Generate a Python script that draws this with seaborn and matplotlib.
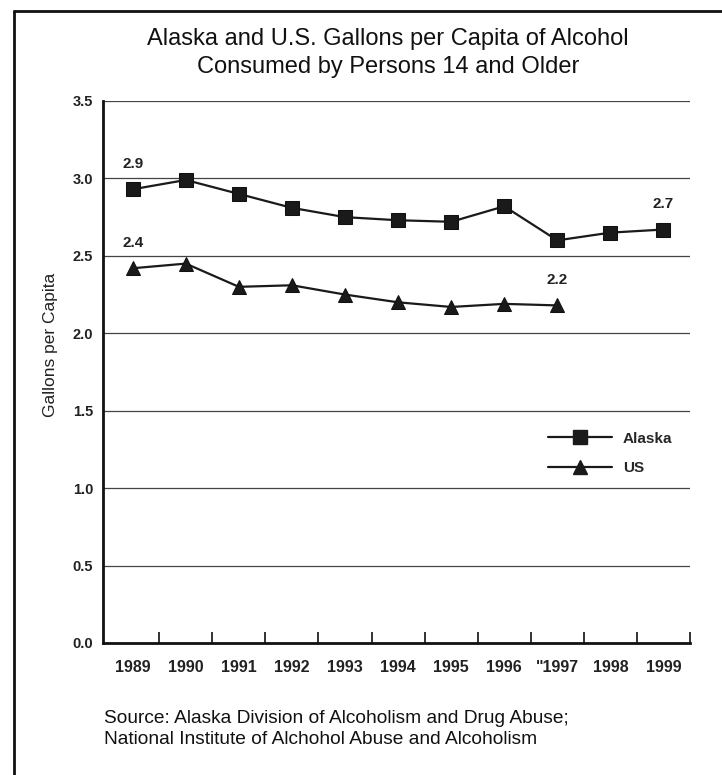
import numpy as np
import pandas as pd
import seaborn as sns
import matplotlib.pyplot as plt
from matplotlib.lines import Line2D

# данные
years = [1989, 1990, 1991, 1992, 1993, 1994, 1995, 1996, 1997, 1998, 1999]
year_labels = ["1989", "1990", "1991", "1992", "1993", "1994", "1995", "1996", '"1997', "1998", "1999"]
alaska = [2.93, 2.99, 2.90, 2.81, 2.75, 2.73, 2.72, 2.82, 2.60, 2.65, 2.67]
us_years = [1989, 1990, 1991, 1992, 1993, 1994, 1995, 1996, 1997]
us = [2.42, 2.45, 2.30, 2.31, 2.25, 2.20, 2.17, 2.19, 2.18]

# подписи значений: (год, значение, текст)
alaska_notes = [(1989, 2.93, "2.9"), (1999, 2.67, "2.7")]
us_notes = [(1989, 2.42, "2.4"), (1997, 2.18, "2.2")]

yticks = [0.0, 0.5, 1.0, 1.5, 2.0, 2.5, 3.0, 3.5]

data = pd.concat([
    pd.DataFrame({"year": years, "value": alaska, "series": "Alaska"}),
    pd.DataFrame({"year": us_years, "value": us, "series": "US"}),
], ignore_index=True)

sns.set_style("white")
plt.rcParams['font.family'] = ['Liberation Sans', 'DejaVu Sans']
narrow = ['Liberation Sans Narrow', 'Liberation Sans']

fig = plt.figure(figsize=(7.22, 7.75), dpi=100)
ax = fig.add_axes([103 / 722, 1 - 643 / 775, 587 / 722, 542 / 775])

sns.lineplot(data=data, x="year", y="value", hue="series", style="series",
             markers={"Alaska": "s", "US": "^"}, dashes=False,
             palette={"Alaska": "#1a1a1a", "US": "#1a1a1a"},
             linewidth=1.6, markersize=10, markeredgecolor="#111111",
             ax=ax, legend=False)

ax.set_xlim(1988.44, 1999.5)
ax.set_ylim(0, 3.5)

# сетка
for y in yticks[1:]:
    ax.axhline(y, color="#444444", linewidth=0.9, zorder=0)

ax.set_yticks(yticks)
ax.set_yticklabels([f"{v:.1f}" for v in yticks], fontsize=10.5, color="#222222",
                   family=narrow, weight='bold')
ax.set_xticks(years)
ax.set_xticklabels(year_labels, fontsize=11.5, color="#222222",
                   family=narrow, weight='bold')
ax.set_xticks([y + 0.5 for y in years], minor=True)
ax.tick_params(axis="x", which="both", bottom=True)
ax.tick_params(axis="x", which="major", length=0, pad=12)
ax.tick_params(axis="x", which="minor", direction="in", length=8, width=1.3, color="#222222")
ax.tick_params(axis="y", length=0, pad=7)

for side in ["top", "right"]:
    ax.spines[side].set_visible(False)
for side in ["left", "bottom"]:
    ax.spines[side].set_color("#111111")
    ax.spines[side].set_linewidth(2)

ax.set_xlabel("")
ax.set_ylabel("Gallons per Capita", fontsize=12.5, color="#222222")
ax.yaxis.set_label_coords(-0.076, 0.55)

for x, y, t in alaska_notes + us_notes:
    ax.annotate(t, (x, y), xytext=(0, 13), textcoords="offset points",
                ha="center", va="bottom", fontsize=11, color="#222222",
                family=narrow, weight='bold')

# легенда
handles = [Line2D([], [], color="#1a1a1a", marker="s", markersize=10, linewidth=1.6),
           Line2D([], [], color="#1a1a1a", marker="^", markersize=10, linewidth=1.6)]
leg = ax.legend(handles, ["Alaska", "US"], loc="upper left", bbox_to_anchor=(0.735, 0.415),
                frameon=False, handlelength=4.2, handletextpad=0.7, labelspacing=1.0,
                prop={"size": 11, "weight": "bold", "family": narrow})

fig.text(388 / 722, 1 - 53 / 775,
         "Alaska and U.S. Gallons per Capita of Alcohol\nConsumed by Persons 14 and Older",
         ha="center", va="center", fontsize=17, color="#111111", linespacing=1.4)

fig.text(104 / 722, 1 - 729 / 775,
         "Source: Alaska Division of Alcoholism and Drug Abuse;\n"
         "National Institute of Alchohol Abuse and Alcoholism",
         ha="left", va="center", fontsize=13.8, color="#111111", linespacing=1.3)

# рамка
fig.add_artist(Line2D([14 / 722, 14 / 722], [0, 1 - 11 / 775], color="#111111",
                      linewidth=2, transform=fig.transFigure))
fig.add_artist(Line2D([14 / 722, 1], [1 - 11 / 775, 1 - 11 / 775], color="#111111",
                      linewidth=2, transform=fig.transFigure))

fig.savefig("out.png", dpi=100)
